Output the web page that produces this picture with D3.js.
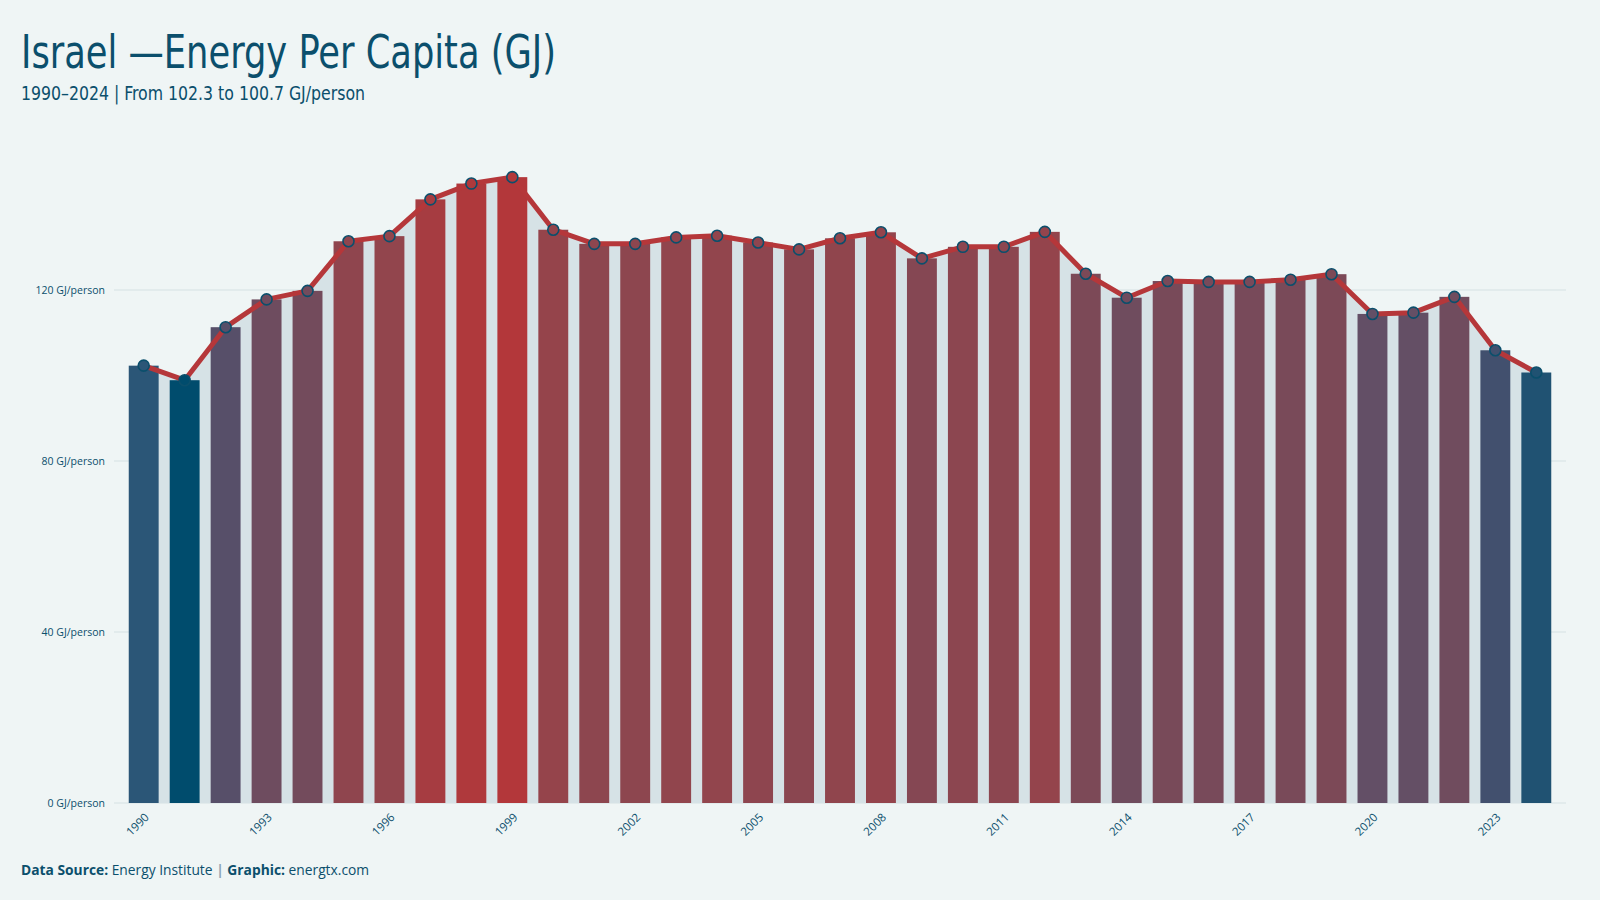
<!DOCTYPE html>
<html>
<head>
<meta charset="utf-8">
<script src="https://cdn.jsdelivr.net/npm/d3@7"></script>
<style>
  html, body { margin: 0; padding: 0; background: #eff5f5; }
  svg { display: block; }
</style>
</head>
<body>
<svg id="chart" width="1600" height="900"></svg>
<script>
const years = [1990,1991,1992,1993,1994,1995,1996,1997,1998,1999,2000,2001,2002,2003,2004,2005,2006,2007,2008,2009,2010,2011,2012,2013,2014,2015,2016,2017,2018,2019,2020,2021,2022,2023,2024];
const values = [102.3,98.9,111.3,117.8,119.8,131.4,132.6,141.2,144.9,146.4,134.1,130.8,130.8,132.3,132.7,131.1,129.5,132.1,133.5,127.4,130.1,130.1,133.6,123.8,118.2,122.1,121.9,121.9,122.4,123.7,114.4,114.7,118.4,105.9,100.7];
const yTicks = [0, 40, 80, 120];
const xTickYears = [1990,1993,1996,1999,2002,2005,2008,2011,2014,2017,2020,2023];
const titleText = "Israel —Energy Per Capita (GJ)";
const subtitleText = "1990–2024 | From 102.3 to 100.7 GJ/person";
const colorStops = ["#004c6d", "#1f5272", "#2b5677", "#42506e", "#634f66", "#6f4c5e", "#95444b", "#b3373a"];
const colorStopPos = [0, 0.035, 0.07, 0.147, 0.326, 0.406, 0.74, 1];

const data = years.map((y, i) => ({ year: y, value: values[i] }));
const svg = d3.select("#chart");
const dark = "#0b4f6c";

const x = d3.scaleBand().domain(years).range([114, 1566]).paddingInner(0.27).paddingOuter(0.36);
const y = d3.scaleLinear().domain([0, 120]).range([803, 290]);

const vmin = d3.min(values), vmax = d3.max(values);
const color = d3.scaleLinear()
  .domain(colorStopPos.map(p => vmin + p * (vmax - vmin)))
  .range(colorStops)
  .interpolate(d3.interpolateRgb);

// grid
svg.append("g").selectAll("line").data(yTicks).join("line")
  .attr("x1", 114).attr("x2", 1566)
  .attr("y1", d => y(d)).attr("y2", d => y(d))
  .attr("stroke", "#d5e1e4").attr("stroke-width", 1.2);

// y labels
svg.append("g").selectAll("text").data(yTicks).join("text")
  .attr("x", 105).attr("y", d => y(d)).attr("dy", "0.35em")
  .attr("text-anchor", "end")
  .attr("font-family", "'Open Sans', sans-serif").attr("font-size", 10.5)
  .attr("fill", dark)
  .text(d => d + " GJ/person");

const cx = d => x(d.year) + x.bandwidth() / 2;

// area under line
svg.append("path").datum(data)
  .attr("d", d3.area().x(cx).y0(y(0)).y1(d => y(d.value)))
  .attr("fill", "#d6e2e6");

// bars
svg.append("g").selectAll("rect").data(data).join("rect")
  .attr("x", d => x(d.year)).attr("width", x.bandwidth())
  .attr("y", d => y(d.value)).attr("height", d => y(0) - y(d.value))
  .attr("fill", d => color(d.value));

// line
svg.append("path").datum(data)
  .attr("d", d3.line().x(cx).y(d => y(d.value)))
  .attr("fill", "none").attr("stroke", "#b5373a").attr("stroke-width", 5)
  .attr("stroke-linejoin", "round");

// points
svg.append("g").selectAll("circle").data(data).join("circle")
  .attr("cx", cx).attr("cy", d => y(d.value)).attr("r", 5.5)
  .attr("fill", d => color(d.value))
  .attr("stroke", dark).attr("stroke-width", 1.6);

// x labels
svg.append("g").selectAll("text").data(xTickYears).join("text")
  .attr("transform", d => `translate(${x(d) + x.bandwidth() / 2 + 6},${y(0) + 15}) rotate(-45)`)
  .attr("text-anchor", "end")
  .attr("font-family", "'Open Sans', sans-serif").attr("font-size", 11.5)
  .attr("fill", dark)
  .text(d => d);

// title
svg.append("text").attr("x", 21).attr("y", 68)
  .attr("font-family", "'Liberation Sans Narrow', 'DejaVu Sans Condensed', sans-serif")
  .attr("font-size", 47).attr("fill", dark).text(titleText)
  .attr("textLength", 535).attr("lengthAdjust", "spacingAndGlyphs");

svg.append("text").attr("x", 21).attr("y", 100)
  .attr("font-family", "'Liberation Sans Narrow', 'DejaVu Sans Condensed', sans-serif")
  .attr("font-size", 20).attr("fill", dark).text(subtitleText)
  .attr("textLength", 344).attr("lengthAdjust", "spacingAndGlyphs");

// footer
const f = svg.append("text").attr("x", 21).attr("y", 875)
  .attr("font-family", "'Open Sans', sans-serif").attr("font-size", 13.8).attr("fill", dark);
f.append("tspan").attr("font-weight", "bold").text("Data Source:");
f.append("tspan").text(" Energy Institute ");
f.append("tspan").attr("fill", "#8aa4b3").attr("font-weight", "bold").text("|");
f.append("tspan").attr("font-weight", "bold").text(" Graphic:");
f.append("tspan").text(" energtx.com");
</script>
</body>
</html>
